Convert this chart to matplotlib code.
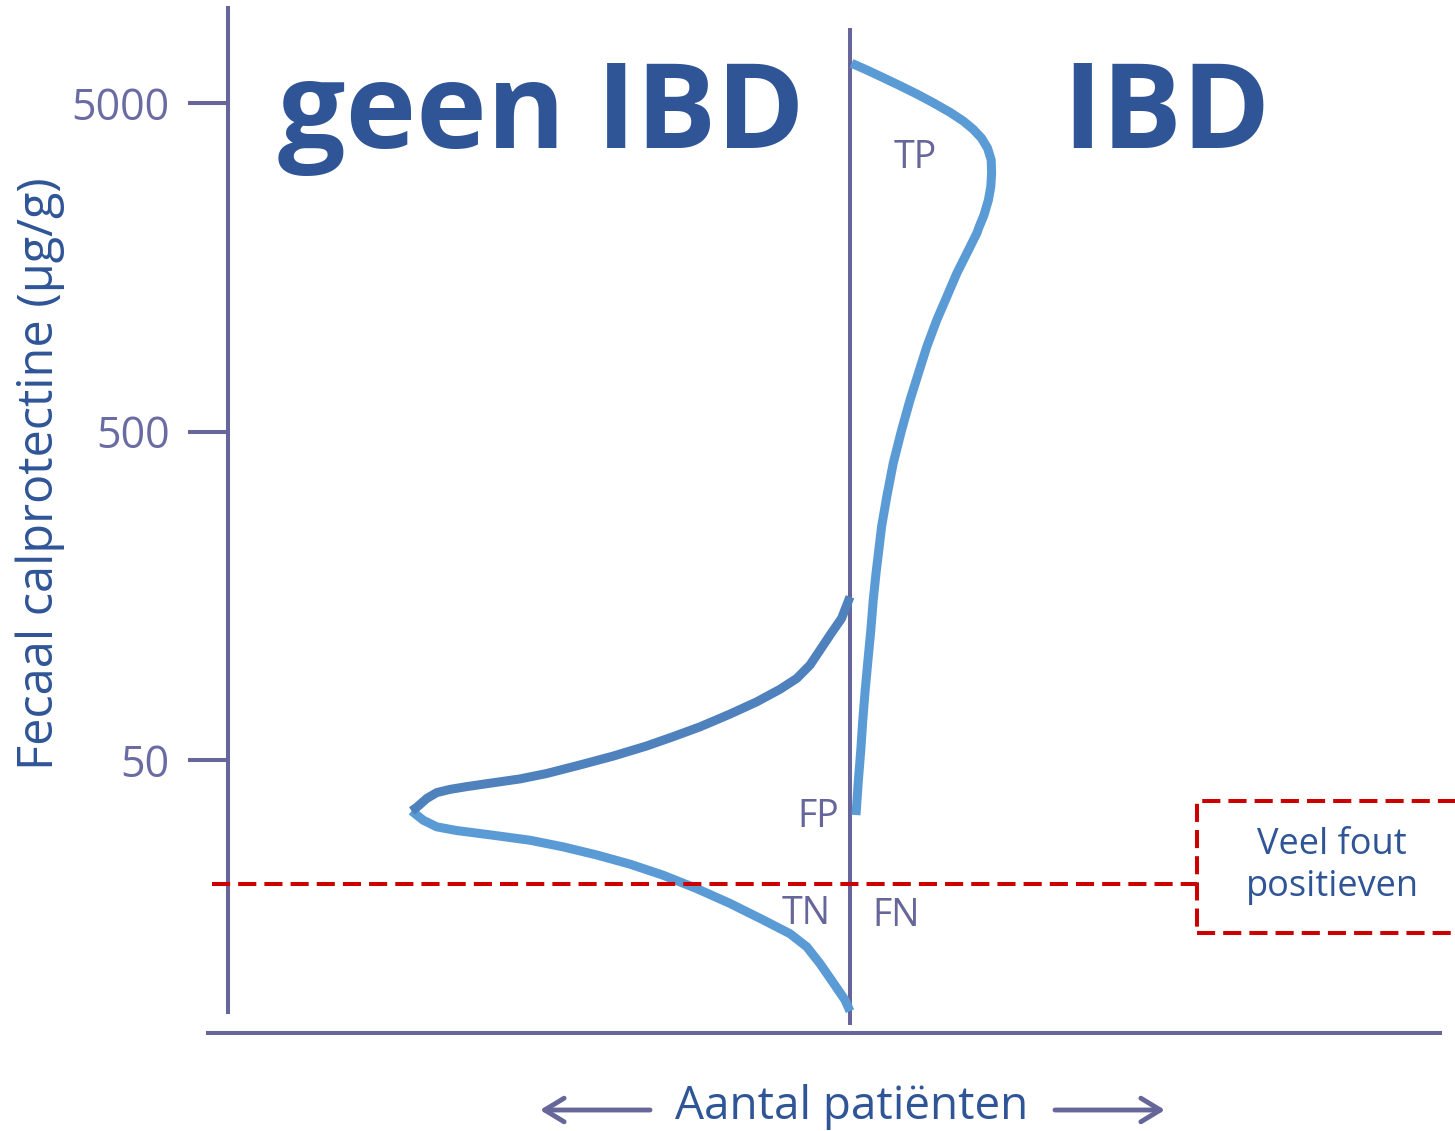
import matplotlib.pyplot as plt
import numpy as np
from matplotlib.patches import Rectangle

plt.rcParams["font.family"] = ["Open Sans", "DejaVu Sans"]

# geen IBD: number of patients per calprotectine level (drawn to the left)
geen_low_count = [109.6, 106.7, 103.3, 98.3, 90, 80, 71.7, 63.3, 55, 46.7, 38.3, 30,
                  21.7, 15, 10.8, 7.5, 4.2, 1.25, 0]
geen_low_value = [35.0, 32.8, 31.3, 30.5, 29.6, 28.5, 27.2, 25.7, 24.1, 22.3, 20.3, 18.3,
                  16.3, 14.8, 13.5, 12.0, 10.5, 9.3, 8.6]
geen_high_count = [109.6, 108.3, 105.8, 103.3, 100, 95.8, 90, 82.5, 75.8, 67.5, 59.2, 50.8,
                   44.2, 37.5, 30, 23.3, 17.5, 13.3, 10, 7.5, 5, 2.1, 0]
geen_high_value = [35.0, 35.9, 38.2, 39.8, 40.7, 41.5, 42.5, 43.8, 45.5, 48.3, 51.4, 55.2,
                   58.9, 63.1, 69.0, 75.2, 82.1, 88.6, 97.3, 108, 120, 135, 157]

# IBD: number of patients per calprotectine level (drawn to the right)
ibd_count = [0.4, 4.2, 8.3, 12.5, 16.7, 20.8, 25, 28.3, 30.8, 32.9, 34.4, 35.3, 35.4, 35.2,
             34.6, 33.5, 32.3, 31.7, 29.2, 26.7, 24.2, 21.7, 19.2, 17.1, 15, 12.9, 10.8,
             9.2, 7.9, 7.3, 6.5, 5.8, 5.2, 4.5, 3.8, 3.2, 2.7, 2.1, 1.5]
ibd_value = [6604, 6301, 5970, 5644, 5325, 5009, 4684, 4407, 4158, 3905, 3639, 3354, 3054,
             2781, 2533, 2280, 2101, 2006, 1743, 1515, 1286, 1093, 906, 752, 623, 505, 400,
             317, 257, 223, 185, 153, 124, 101, 81.7, 66.2, 53.6, 43.5, 34.0]

yticks = [50, 500, 5000]
ytick_labels = ["50", "500", "5000"]
cutoff = 21

axis_col = "#66669A"
text_col = "#2F5597"
light = "#5B9BD5"
dark = "#4F81BD"
red = "#CC0000"

fig = plt.figure(figsize=(14.55, 11.31), dpi=100)
ax = fig.add_axes([208 / 1455, 98 / 1131, 1232 / 1455, 1025 / 1131])
ax.set_yscale("log")
ax.set_xlim(-160.5, 147.5)
ax.set_ylim(7.38, 9730)

# axes lines
for s in ["top", "right"]:
    ax.spines[s].set_visible(False)
ax.spines["left"].set_position(("data", -155.5))
ax.spines["left"].set_bounds(8.55, 9730)
for s in ["left", "bottom"]:
    ax.spines[s].set_color(axis_col)
    ax.spines[s].set_linewidth(2.9)
ax.set_xticks([])
ax.set_yticks(yticks)
ax.set_yticklabels(ytick_labels)
ax.yaxis.set_minor_locator(plt.NullLocator())
ax.tick_params(axis="y", direction="out", length=29, width=2.9, color=axis_col,
               labelcolor="#6B6BA3", labelsize=31, pad=13)

# centre line
ax.vlines(0, 7.8, 8450, color=axis_col, lw=2.9, zorder=2)

# curves
line_kw = dict(lw=6.5, solid_joinstyle="round", solid_capstyle="butt", zorder=3)
ax.plot(-np.array(geen_low_count), geen_low_value, color=light, **line_kw)
ax.plot(-np.array(geen_high_count), geen_high_value, color=dark, **line_kw)
ax.plot(ibd_count, ibd_value, color=light, **line_kw)

# cutoff line and box
ax.plot([-159.5, 86.75], [cutoff, cutoff], color=red, lw=2.9,
        linestyle=(0, (4.5, 2)), zorder=4)
ax.add_patch(Rectangle((86.75, 14.9), 70, 37.5 - 14.9, fill=False, edgecolor=red,
                       lw=2.9, linestyle=(0, (4.5, 2)), clip_on=False, zorder=4))
ax.text(120.5, 23.8, "Veel fout\npositieven", ha="center", va="center",
        fontsize=26, color=text_col, linespacing=1.2)

# quadrant labels
for lbl, x, y in [("TP", 16.25, 3400), ("FP", -8, 33.5), ("TN", -11, 17.0), ("FN", 11.5, 16.7)]:
    ax.text(x, y, lbl, ha="center", va="center", fontsize=27, color=axis_col, zorder=5)

# titles
fig.text(541 / 1455, 1 - 148 / 1131, "geen IBD", ha="center", va="baseline",
         fontsize=86, fontweight="bold", color=text_col)
fig.text(1166 / 1455, 1 - 148 / 1131, "IBD", ha="center", va="baseline",
         fontsize=86, fontweight="bold", color=text_col)

# axis labels
fig.text(40 / 1455, 1 - 474 / 1131, "Fecaal calprotectine (µg/g)", rotation=90,
         ha="center", va="center", fontsize=35, color=text_col)
fig.text(852 / 1455, 1 - 1107 / 1131, "Aantal patiënten", ha="center", va="center",
         fontsize=33, color=text_col)
arrow = dict(arrowstyle="->,head_length=1.4,head_width=0.85", lw=3.5, color=axis_col,
             mutation_scale=10, shrinkA=0, shrinkB=0)
ax.annotate("", xy=(540 / 1455, 1 - 1110 / 1131), xytext=(650 / 1455, 1 - 1110 / 1131),
            xycoords="figure fraction", textcoords="figure fraction", arrowprops=arrow)
ax.annotate("", xy=(1165 / 1455, 1 - 1110 / 1131), xytext=(1055 / 1455, 1 - 1110 / 1131),
            xycoords="figure fraction", textcoords="figure fraction", arrowprops=arrow)

fig.savefig("out.png", dpi=100)
